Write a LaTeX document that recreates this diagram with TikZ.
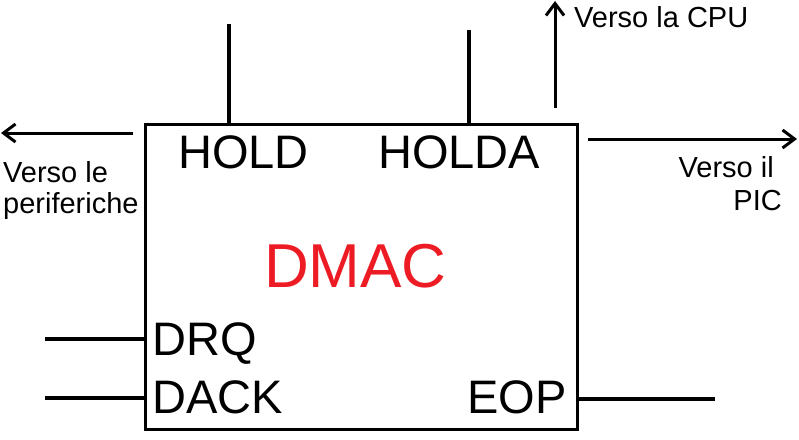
\documentclass[tikz,border=0pt]{standalone}
\usepackage{fontspec}
\setmainfont{Liberation Sans}
\usetikzlibrary{arrows.meta}
\begin{document}
\begin{tikzpicture}[x=1pt,y=-1pt,
  wire/.style={line width=3.5pt},
  arr/.style={line width=3pt,-{Straight Barb[length=12pt,width=18pt,line width=3pt]}},
  big/.style={inner sep=0pt,font=\fontsize{47}{50}\selectfont},
  small/.style={inner sep=0pt,font=\fontsize{29}{31}\selectfont}]
\useasboundingbox (0,0) rectangle (799,439);
\node (dmac) [draw,line width=3pt,minimum width=432pt,minimum height=305pt,anchor=north west,inner sep=0pt] at (144,123) {};
% labels inside
\node (hold) [big,anchor=base west] at (178,168) {HOLD};
\node (holda) [big,anchor=base west] at (378,168) {HOLDA};
\node (name) [inner sep=0pt,anchor=base west,text={rgb,255:red,237;green,28;blue,36},font=\fontsize{62}{66}\selectfont] at (264,287) {DMAC};
\node (drq) [big,anchor=base west] at (152,355) {DRQ};
\node (dack) [big,anchor=base west] at (152,413) {DACK};
\node (eop) [big,anchor=base east] at (567,413) {EOP};
% outside texts
\node (cpu) [small,anchor=base west] at (574,27) {Verso la CPU};
\node (per1) [small,anchor=base west] at (3,182) {Verso le};
\node (per2) [small,anchor=base west] at (3,213) {periferiche};
\node (pic1) [small,anchor=base east] at (774,177) {Verso il};
\node (pic2) [small,anchor=base east] at (782,210) {PIC};
% connector ends
\coordinate (holdT) at (229,24);
\coordinate (holdaT) at (469,30);
\coordinate (cpuS) at (555,108);
\coordinate (cpuE) at (555,1);
\coordinate (perS) at (133,133);
\coordinate (perE) at (1,133);
\coordinate (picS) at (588,139);
\coordinate (picE) at (797,139);
\coordinate (drqL) at (45,339);
\coordinate (dackL) at (45,398);
\coordinate (eopR) at (715,399);
% connectors
\draw[wire] (holdT) -- (holdT |- dmac.north);
\draw[wire] (holdaT) -- (holdaT |- dmac.north);
\draw[arr] (cpuS) -- (cpuE);
\draw[arr] (perS) -- (perE);
\draw[arr] (picS) -- (picE);
\draw[wire] (drqL) -- (drqL -| dmac.west);
\draw[wire] (dackL) -- (dackL -| dmac.west);
\draw[wire] (eopR) -- (eopR -| dmac.east);
\end{tikzpicture}
\end{document}
